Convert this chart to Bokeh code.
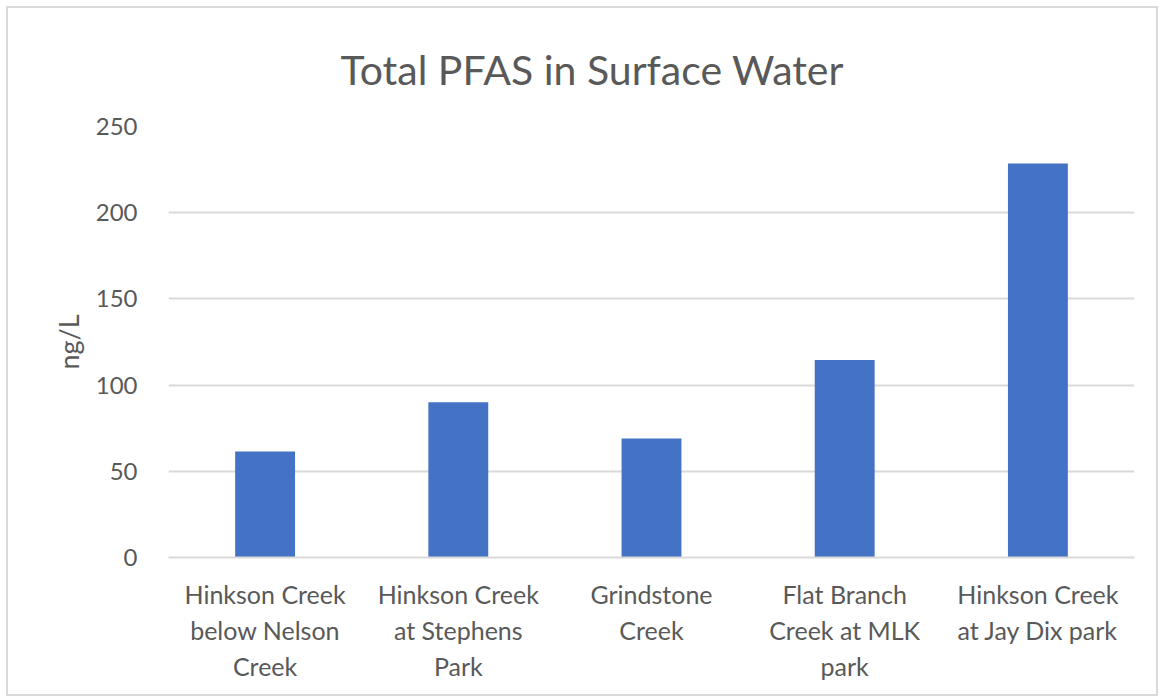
from bokeh.plotting import figure
from bokeh.models import FactorRange, Range1d, FixedTicker, ColumnDataSource, Title
from bokeh.embed import file_html
from bokeh.resources import INLINE

# ---- data ----
sites = [
    "Hinkson Creek\nbelow Nelson\nCreek",
    "Hinkson Creek\nat Stephens\nPark",
    "Grindstone\nCreek",
    "Flat Branch\nCreek at MLK\npark",
    "Hinkson Creek\nat Jay Dix park",
]
total_pfas = [61.5, 90, 69, 114.5, 228.5]
y_ticks = [0, 50, 100, 150, 200, 250]
title_text = "Total PFAS in Surface Water"
y_label = "ng/L"

FONT = "Lato"
GREY = "#595959"

source = ColumnDataSource(data=dict(site=sites, value=total_pfas))

p = figure(
    x_range=FactorRange(*sites),
    y_range=Range1d(0, 250),
    width=1152,
    height=690,
    output_backend="svg",
    toolbar_location=None,
    min_border_left=160,
    min_border_right=26,
    min_border_top=118,
    min_border_bottom=141,
)
p.styles = {"border": "2px solid #d9d9d9", "margin-left": "6px", "margin-top": "6px"}
p.outline_line_color = None
p.background_fill_color = "white"
p.border_fill_color = "white"

p.vbar(x="site", top="value", width=0.31, source=source,
       fill_color="#4472C4", line_color=None)

# y axis
p.yaxis.ticker = FixedTicker(ticks=y_ticks)
p.yaxis.axis_line_color = None
p.yaxis.major_tick_line_color = None
p.yaxis.minor_tick_line_color = None
p.yaxis.major_label_text_font = FONT
p.yaxis.major_label_text_font_size = "24px"
p.yaxis.major_label_text_color = GREY
p.yaxis.major_label_standoff = 25
p.yaxis.axis_label = y_label
p.yaxis.axis_label_text_font = FONT
p.yaxis.axis_label_text_font_size = "27px"
p.yaxis.axis_label_text_font_style = "normal"
p.yaxis.axis_label_text_color = GREY
p.yaxis.axis_label_standoff = 8

# x axis
p.xaxis.axis_line_color = "#d9d9d9"
p.xaxis.axis_line_width = 2
p.xaxis.major_tick_line_color = None
p.xaxis.minor_tick_line_color = None
p.xaxis.major_label_text_font = FONT
p.xaxis.major_label_text_font_size = "25px"
p.xaxis.major_label_text_color = GREY
p.xaxis.major_label_standoff = 15

# grid
p.xgrid.grid_line_color = None
p.ygrid.ticker = FixedTicker(ticks=y_ticks)
p.ygrid.grid_line_color = "#d9d9d9"
p.ygrid.grid_line_width = 2

# title
p.title = Title(text=title_text, align="left", offset=172, standoff=66,
                text_font=FONT, text_font_size="41px", text_color=GREY,
                text_font_style="normal")

open("out.html", "w").write(file_html(p, INLINE))
